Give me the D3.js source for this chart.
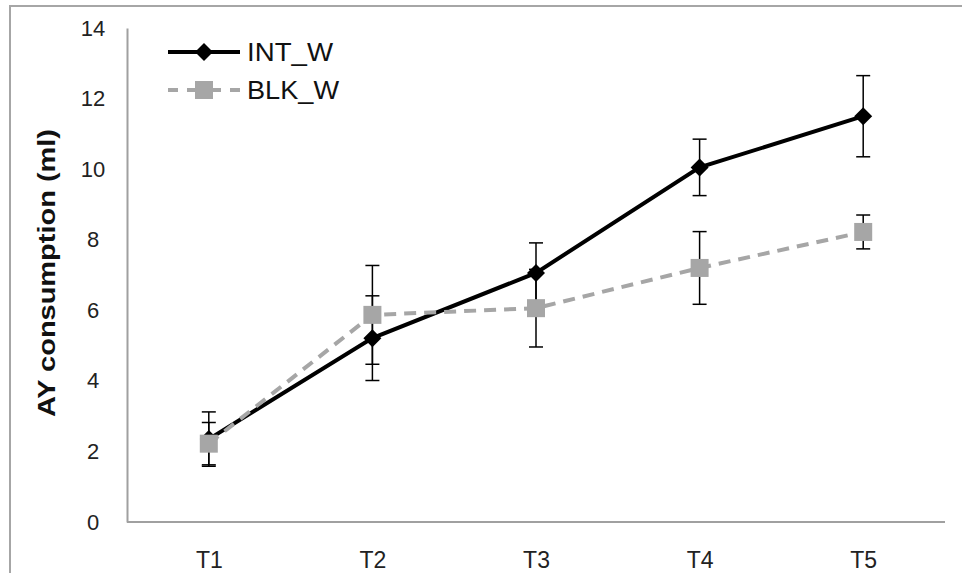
<!DOCTYPE html>
<html>
<head>
<meta charset="utf-8">
<script src="https://cdn.jsdelivr.net/npm/d3@7"></script>
<style>
  body { margin: 0; background: #fff; }
  svg { display: block; font-family: "Liberation Sans", Arial, sans-serif; }
</style>
</head>
<body>
<svg width="962" height="573"></svg>
<script>
// data
var categories = ["T1", "T2", "T3", "T4", "T5"];
var intW = [2.35, 5.21, 7.06, 10.05, 11.5];
var intErr = [0.77, 1.2, 0.85, 0.8, 1.15];
var blkW = [2.22, 5.87, 6.06, 7.2, 8.22];
var blkErr = [0.6, 1.4, 1.1, 1.03, 0.48];
var yTicks = [0, 2, 4, 6, 8, 10, 12, 14];

var svg = d3.select("svg"),
    width = +svg.attr("width"),
    height = +svg.attr("height");

// plot area edges (window.top is reserved, so no "top" here)
var plotL = 127, plotR = 945, plotT = 28, plotB = 522;

var x = d3.scalePoint().domain(categories).range([plotL, plotR]).padding(0.5);
var y = d3.scaleLinear().domain([0, 14]).range([plotB, plotT]);

// outer chart frame (only left/top visible)
svg.append("rect")
    .attr("x", 10).attr("y", 6)
    .attr("width", width + 20).attr("height", height + 20)
    .attr("fill", "none")
    .attr("stroke", "#a6a6a6")
    .attr("stroke-width", 2);

// axes
var yAxis = svg.append("g")
    .attr("transform", "translate(" + plotL + ",0)")
    .call(d3.axisLeft(y).tickValues(yTicks).tickSize(0).tickPadding(0));
yAxis.select(".domain").attr("stroke", "#a0a0a0").attr("stroke-width", 2);
yAxis.selectAll("text")
    .attr("x", -34)
    .attr("text-anchor", "middle")
    .attr("font-size", 22)
    .attr("font-family", "Liberation Sans, Arial, sans-serif")
    .attr("fill", "#222");

var xAxis = svg.append("g")
    .attr("transform", "translate(0," + plotB + ")")
    .call(d3.axisBottom(x).tickSize(0).tickPadding(0));
xAxis.select(".domain").attr("stroke", "#a0a0a0").attr("stroke-width", 2)
    .attr("d", "M" + plotL + ",0H" + plotR);
xAxis.selectAll("text")
    .attr("y", 0)
    .attr("dy", "46px")
    .attr("font-size", 23)
    .attr("font-family", "Liberation Sans, Arial, sans-serif")
    .attr("fill", "#222");

// y axis title
svg.append("text")
    .attr("transform", "translate(55," + 273 + ") rotate(-90)")
    .attr("text-anchor", "middle")
    .attr("font-size", 24)
    .attr("font-weight", "bold")
    .attr("textLength", 288)
    .attr("lengthAdjust", "spacingAndGlyphs")
    .attr("fill", "#111")
    .text("AY consumption (ml)");

var series = [
    { name: "INT_W", vals: intW, err: intErr, color: "#000", dash: null, marker: "diamond" },
    { name: "BLK_W", vals: blkW, err: blkErr, color: "#a6a6a6", dash: "12,8", marker: "square" }
];

var line = d3.line()
    .x(function (d, i) { return x(categories[i]); })
    .y(function (d) { return y(d); });

// error bars first
series.forEach(function (s) {
    var g = svg.append("g").attr("class", "err");
    s.vals.forEach(function (v, i) {
        var cx = x(categories[i]);
        g.append("line")
            .attr("x1", cx).attr("x2", cx)
            .attr("y1", y(v - s.err[i])).attr("y2", y(v + s.err[i]))
            .attr("stroke", "#000").attr("stroke-width", 1.5);
        [v - s.err[i], v + s.err[i]].forEach(function (e) {
            g.append("line")
                .attr("x1", cx - 7).attr("x2", cx + 7)
                .attr("y1", y(e)).attr("y2", y(e))
                .attr("stroke", "#000").attr("stroke-width", 1.5);
        });
    });
});

function drawMarker(g, type, cx, cy, color) {
    if (type === "square") {
        g.append("rect")
            .attr("x", cx - 9).attr("y", cy - 9)
            .attr("width", 18).attr("height", 18)
            .attr("fill", color);
    } else {
        g.append("path")
            .attr("d", "M" + cx + "," + (cy - 9) + "L" + (cx + 9) + "," + cy +
                "L" + cx + "," + (cy + 9) + "L" + (cx - 9) + "," + cy + "Z")
            .attr("fill", color);
    }
}

series.forEach(function (s) {
    svg.append("path")
        .datum(s.vals)
        .attr("d", line)
        .attr("fill", "none")
        .attr("stroke", s.color)
        .attr("stroke-width", 4)
        .attr("stroke-dasharray", s.dash);
    var mg = svg.append("g");
    s.vals.forEach(function (v, i) {
        drawMarker(mg, s.marker, x(categories[i]), y(v), s.color);
    });
});

// legend
series.forEach(function (s, i) {
    var ly = 52 + i * 38;
    var g = svg.append("g");
    g.append("line")
        .attr("x1", 168).attr("x2", 240)
        .attr("y1", ly).attr("y2", ly)
        .attr("stroke", s.color)
        .attr("stroke-width", 4)
        .attr("stroke-dasharray", s.dash ? "10,9,34,9,10" : null);
    drawMarker(g, s.marker, 204, ly, s.color);
    g.append("text")
        .attr("x", 247).attr("y", ly)
        .attr("dy", "0.36em")
        .attr("font-size", 25)
        .attr("textLength", s.name === "INT_W" ? 86 : 92)
        .attr("lengthAdjust", "spacingAndGlyphs")
        .attr("fill", "#111")
        .text(s.name);
});
</script>
</body>
</html>
